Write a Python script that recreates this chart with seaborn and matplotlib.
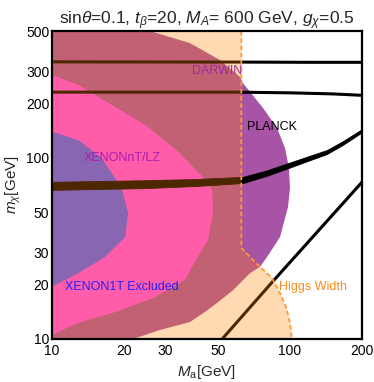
import matplotlib
matplotlib.use("Agg")
import matplotlib.pyplot as plt
import seaborn as sns

# region outlines (Ma [GeV], m_chi [GeV])
darwin_x = [9, 20, 25.8, 38.0, 50.8, 61.7, 63.5, 77.1, 88.3, 95.4, 99.1, 100.1, 98.2,
            90.9, 80.1, 74.9, 68.0, 57.7, 49.4, 44.0, 38.0, 28.4, 21.9, 15, 9]
darwin_y = [800, 620, 500, 429, 346, 279, 258, 188, 146, 113, 87.8, 68.1, 53.5,
            36.5, 28.3, 25.0, 23.1, 18.6, 15.8, 14.1, 12.4, 11.2, 10, 9, 9]

xenonnt_x = [9, 10, 12.9, 17.9, 24.6, 33.9, 41.1, 43.1, 47.1, 47.5, 45.3, 41.9,
             36.2, 27.1, 17.9, 12.9, 10, 9]
xenonnt_y = [300, 286, 252, 195, 152, 108, 83.4, 78.3, 66.4, 49.6, 35.2, 29.8,
             21.2, 17.0, 13.9, 12.3, 10.5, 10.4]

xenon1t_x = [9, 10, 12.9, 16.2, 18.4, 19.7, 20.9, 20.3, 16.7, 12.9, 10, 9]
xenon1t_y = [142, 139, 125, 99.6, 77.3, 66.4, 49.6, 36.5, 28.3, 23.1, 19.4, 19]

higgs_x = [62.5, 62.5, 68.0, 74.9, 84.1, 90.9, 96.3, 100.1, 102, 102.5]
higgs_y = [600, 31.8, 28.3, 25.0, 21.7, 17.9, 15.0, 12.3, 10, 9]

# PLANCK relic density curves
planck_a_x = [10, 60, 120, 200]
planck_a_y = [338, 337, 336, 336]
planck_b_x = [10, 60, 100, 150, 200]
planck_b_y = [230, 230, 228, 225, 221]
band_x = [10, 25, 40, 63.5, 80, 100, 121, 143, 167, 200]
band_lo = [66.5, 68.0, 69.8, 72.5, 79.5, 88.3, 96.8, 104.8, 117.8, 137.6]
band_hi = [73.6, 75.2, 76.3, 78.4, 85.1, 94.1, 102.4, 110.2, 123.4, 143.2]
planck_d_x = [50, 84, 205]
planck_d_y = [9.45, 20.5, 75.5]

xticks = [10, 20, 30, 50, 100, 200]
yticks = [10, 20, 30, 50, 100, 200, 300, 500]

sns.set_style("white")
plt.rcParams["font.family"] = ["Liberation Sans", "DejaVu Sans"]
plt.rcParams["mathtext.fontset"] = "custom"
plt.rcParams["mathtext.rm"] = "Liberation Sans"
plt.rcParams["mathtext.it"] = "Liberation Sans:italic"

fig, ax = plt.subplots(figsize=(3.74, 3.82), dpi=100)
fig.subplots_adjust(left=0.139, right=0.9666, top=0.9188, bottom=0.1126)
ax.set_xscale("log")
ax.set_yscale("log")

# exclusion regions
ax.fill(darwin_x, darwin_y, color="#A854A6", lw=0, zorder=1)
ax.fill(xenonnt_x, xenonnt_y, color="#FF4CF3", lw=0, zorder=1.1)
ax.fill(xenon1t_x, xenon1t_y, color="#555AFF", lw=0, zorder=1.2)

# relic density lines
sns.lineplot(x=planck_a_x, y=planck_a_y, ax=ax, color="black", lw=2.2,
             sort=False, estimator=None, zorder=2)
sns.lineplot(x=planck_b_x, y=planck_b_y, ax=ax, color="black", lw=2.2,
             sort=False, estimator=None, zorder=2)
ax.fill_between(band_x, band_lo, band_hi, color="black", lw=0.6, zorder=2)
sns.lineplot(x=planck_d_x, y=planck_d_y, ax=ax, color="black", lw=2.2,
             sort=False, estimator=None, zorder=2)

# Higgs width, translucent on top
ax.fill(higgs_x + [9, 9], higgs_y + [9, 600], color="#FF8200", alpha=0.3,
        lw=0, zorder=4)
sns.lineplot(x=higgs_x, y=higgs_y, ax=ax, color="#FF9A30", lw=1.3,
             dashes=False, sort=False, estimator=None, zorder=5,
             linestyle=(0, (2.5, 1.5)))

ax.text(49.4, 301, "DARWIN", color="#9A2E9E", fontsize=9, ha="center",
        va="center", zorder=6)
ax.text(19.8, 100, "XENONnT/LZ", color="#A81EB0", fontsize=9, ha="center",
        va="center", zorder=6)
ax.text(84, 148, "PLANCK", color="black", fontsize=9, ha="center",
        va="center", zorder=6)
ax.text(19.7, 19.4, "XENON1T Excluded", color="#2020FF", fontsize=9,
        ha="center", va="center", zorder=6)
ax.text(124.5, 19.4, "Higgs Width", color="#FF8C1A", fontsize=9,
        ha="center", va="center", zorder=6)

ax.set_xlim(10, 200)
ax.set_ylim(10, 500)
ax.set_xticks(xticks)
ax.set_xticklabels([str(t) for t in xticks])
ax.set_yticks(yticks)
ax.set_yticklabels([str(t) for t in yticks])
ax.minorticks_off()
ax.tick_params(direction="in", length=2.5, width=0.9, labelsize=10,
               colors="black")
ax.tick_params(axis="x", pad=3.5)
ax.tick_params(axis="y", pad=2)

for s in ax.spines.values():
    s.set_linewidth(1.6)
    s.set_color("black")
    s.set_zorder(10)

ax.set_xlabel(r"$M_{\rm a}$[GeV]", fontsize=11, labelpad=4)
ax.set_ylabel(r"$m_\chi$[GeV]", fontsize=11, labelpad=2)
ax.set_title(r"sin$\theta$=0.1, $t_\beta$=20, $M_A$= 600 GeV, $g_\chi$=0.5",
             fontsize=12.5, pad=5)

fig.savefig("out.png", dpi=100)
